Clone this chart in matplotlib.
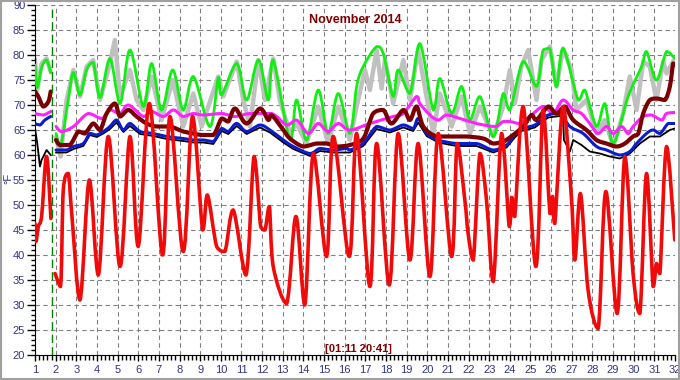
import numpy as np
import matplotlib
matplotlib.use("Agg")
import matplotlib.pyplot as plt
from matplotlib.ticker import MultipleLocator
from matplotlib.patches import Rectangle, PathPatch
from matplotlib.path import Path

nan = np.nan

# temperatures (°F) by day of month, nan marks the data gap at the restart line
red_day = [1.0, 1.05, 1.16, 1.32, 1.56, 1.77, 1.84,
           1.97, 2.24, 2.37, 2.61, 2.78, 3.18, 3.63, 4.07, 4.55, 5.12, 5.6, 6.0, 6.54, 7.18,
           7.54, 8.18, 8.63, 9.12, 9.35, 9.8, 10.2, 10.6, 11.22, 11.61, 11.93, 12.14, 12.35,
           12.54, 13.19, 13.64, 14.07, 14.48, 15.12, 15.45, 16.22, 16.58, 17.22, 17.55, 18.16,
           18.59, 19.16, 19.56, 20.13, 20.53, 21.18, 21.45, 21.82, 21.98, 22.23, 22.55, 22.87,
           23.2, 23.6, 23.97, 24.1, 24.24, 24.65, 25.26, 25.61, 25.94, 26.07, 26.18, 26.58,
           26.99, 27.15, 27.42, 27.79, 28.28, 28.65, 29.2, 29.57, 29.97, 30.3, 30.62, 30.94,
           31.1, 31.27, 31.59, 31.99]
red_temp = [46.3, 42.7, 45.7, 47.7, 59.7, 47.3, nan,
            36.3, 33.7, 53.0, 56.3, 48.3, 31.0, 55.0, 36.0, 63.7, 37.7, 63.7, 41.7, 70.3, 40.0,
            67.7, 40.7, 67.7, 45.0, 52.0, 41.7, 40.7, 49.0, 36.0, 59.7, 45.7, 45.0, 49.7,
            37.7, 30.3, 47.7, 30.0, 60.3, 39.7, 63.7, 39.7, 64.3, 33.7, 62.3, 34.0,
            64.3, 39.0, 62.3, 35.7, 64.3, 39.7, 62.3, 51.0, 44.3, 39.0, 60.3, 51.0,
            34.7, 64.3, 45.7, 51.5, 47.7, 69.7, 37.7, 69.0, 48.3, 51.7, 46.3, 69.7,
            51.0, 39.0, 52.3, 33.0, 25.3, 52.7, 28.3, 59.7, 36.3, 28.3, 56.3, 33.7,
            38.3, 36.3, 61.7, 43.0]

green_day = [1.0, 1.11, 1.32, 1.56, 1.76, 1.84,
             2.02, 2.24, 2.61, 2.86, 3.18, 3.5, 3.82, 4.15, 4.63, 5.12, 5.6, 6.25, 6.65, 7.13,
             7.67, 8.18, 8.67, 9.47, 9.88, 10.04, 10.77, 11.25, 11.82, 12.3, 12.54, 13.35,
             13.67, 14.15, 14.72, 15.2, 15.69, 16.25, 16.58, 16.9, 17.55, 17.87, 18.35, 18.59,
             19.16, 19.64, 20.29, 20.61, 21.18, 21.66, 22.07, 22.55, 23.2, 23.68, 24.0, 24.65,
             25.29, 25.61, 25.94, 26.26, 26.58, 27.31, 27.63, 28.2, 28.6, 29.01, 29.73, 30.38,
             30.62, 31.1, 31.59, 31.99]
green_temp = [78.0, 73.5, 77.5, 79.0, 76.5, nan,
              64.3, 61.7, 71.0, 76.5, 72.0, 77.0, 78.5, 71.5, 79.3, 70.3, 81.0, 69.7, 78.3, 69.0,
              77.0, 69.0, 75.7, 65.7, 75.5, 72.0, 78.3, 71.0, 79.0, 71.0, 79.0, 63.0,
              71.0, 63.0, 73.0, 64.3, 72.3, 64.3, 73.7, 77.7, 81.7, 80.3, 71.7, 77.0,
              72.3, 82.3, 69.0, 75.3, 68.3, 73.7, 67.0, 71.7, 63.7, 72.3, 69.0, 78.7,
              73.7, 81.0, 81.3, 73.7, 81.3, 71.0, 73.0, 65.7, 70.3, 62.3, 71.7, 77.7,
              80.7, 75.0, 80.7, 79.3]

gray_day = [1.0, 1.11, 1.32, 1.56, 1.76, 1.84,
            2.02, 2.24, 2.53, 2.86, 3.18, 3.5, 3.82, 4.15, 4.55, 4.87, 5.12, 5.6, 5.92, 6.25,
            6.65, 7.13, 7.67, 8.18, 8.67, 9.07, 9.88, 10.12, 10.77, 11.09, 11.41, 11.82, 12.14,
            12.54, 12.86, 13.35, 13.67, 14.15, 14.72, 15.2, 15.69, 16.25, 16.58, 16.98, 17.22,
            17.55, 17.79, 17.95, 18.35, 18.84, 19.16, 19.56, 20.05, 20.29, 20.61, 21.18, 21.66,
            22.07, 22.55, 23.2, 23.68, 24.0, 24.24, 24.56, 24.89, 25.29, 25.53, 25.94, 26.26,
            26.58, 26.99, 27.23, 27.71, 28.2, 28.6, 29.01, 29.49, 29.81, 30.14, 30.46, 30.78,
            31.1, 31.43, 31.59, 31.91]
gray_temp = [79.0, 73.0, 78.3, 79.3, 76.7, nan,
             63.5, 59.7, 71.0, 77.0, 71.7, 77.7, 79.0, 71.0, 77.0, 83.0, 71.7, 77.0, 71.0, 69.0,
             75.7, 67.0, 75.0, 65.7, 72.3, 65.7, 75.7, 71.7, 78.7, 71.0, 65.7, 79.0, 71.0,
             79.3, 71.0, 64.3, 66.3, 62.3, 69.7, 62.3, 69.7, 63.0, 69.7, 77.0, 73.0,
             81.0, 73.3, 79.0, 70.3, 79.0, 71.0, 81.0, 69.7, 64.3, 72.3, 65.7, 71.7,
             64.3, 69.7, 63.7, 69.7, 77.0, 70.3, 77.7, 81.0, 71.0, 79.0, 81.7, 73.7,
             81.3, 77.0, 69.0, 71.0, 64.3, 67.0, 61.7, 68.3, 75.7, 69.0, 78.7, 77.7,
             71.0, 78.7, 76.3, 78.7]

magenta_day = [1.0, 1.4, 1.76, 1.84,
               2.02, 2.29, 2.86, 3.58, 4.23, 4.63, 5.12, 5.52, 6.25, 6.65, 7.21, 7.7, 8.18, 8.67,
               9.15, 10.04, 10.69, 11.41, 12.46, 13.19, 13.67, 14.24, 14.72, 15.2, 15.69, 16.25,
               17.22, 18.35, 18.84, 19.48, 19.64, 20.13, 20.53, 20.94, 21.58, 22.39, 23.28, 23.68,
               24.0, 24.48, 24.97, 25.61, 26.1, 26.58, 27.07, 27.47, 27.87, 28.28, 28.68, 29.01,
               29.41, 29.73, 29.97, 30.46, 30.86, 31.35, 31.59, 31.99]
magenta_temp = [68.3, 68.0, 68.7, nan,
                65.7, 64.7, 65.7, 68.3, 67.3, 69.0, 68.3, 70.0, 67.7, 68.7, 67.7, 69.0, 67.7, 68.3,
                68.0, 68.3, 67.7, 68.3, 68.3, 66.0, 67.0, 64.3, 66.3, 64.7, 66.3, 65.0,
                66.3, 67.7, 68.3, 71.7, 70.3, 68.0, 67.0, 68.0, 67.3, 66.3, 65.7, 66.7,
                66.7, 66.3, 67.7, 69.7, 68.3, 71.0, 69.0, 68.3, 66.3, 64.3, 65.7, 64.3,
                65.7, 64.3, 65.7, 67.7, 68.0, 67.0, 68.3, 68.5]

maroon_day = [1.0, 1.16, 1.4, 1.65, 1.76, 1.84,
              2.02, 2.21, 2.69, 3.1, 3.42, 3.82, 4.15, 4.47, 4.87, 5.12, 5.52, 5.92, 6.41, 6.89,
              7.54, 8.18, 8.67, 9.07, 9.64, 10.04, 10.36, 10.69, 11.25, 11.9, 12.3, 12.46, 13.03,
              13.35, 13.99, 14.64, 15.12, 15.61, 16.25, 16.9, 17.38, 17.87, 18.27, 18.84, 19.16,
              19.48, 19.81, 20.45, 21.26, 21.9, 22.71, 23.2, 23.68, 24.0, 24.65, 25.05, 25.29,
              25.86, 26.26, 26.66, 27.07, 27.71, 28.2, 28.68, 29.17, 29.57, 29.97, 30.22, 30.46,
              30.78, 31.1, 31.51, 31.75, 31.91, 31.99]
maroon_temp = [72.7, 71.7, 69.7, 70.7, 72.7, nan,
               63.0, 62.0, 62.0, 64.7, 64.3, 66.3, 65.0, 68.3, 70.3, 67.7, 69.0, 67.7, 66.3, 65.7,
               65.7, 64.7, 64.3, 64.0, 64.0, 67.3, 66.7, 69.3, 66.3, 69.3, 67.0, 68.0, 65.0,
               63.3, 61.7, 62.3, 62.3, 61.7, 62.0, 63.3, 68.3, 69.0, 66.3, 69.0, 67.0,
               69.7, 65.7, 63.7, 63.7, 63.7, 63.3, 62.3, 62.7, 63.5, 65.7, 68.0, 67.0,
               69.7, 68.3, 69.7, 67.0, 65.0, 63.0, 62.3, 61.7, 62.3, 63.7, 64.3, 68.3,
               71.0, 71.3, 71.0, 73.7, 78.3, 78.0]

blue_day = [1.0, 1.24, 1.48, 1.76, 1.84,
            2.02, 2.53, 2.86, 3.34, 3.66, 3.99, 4.31, 4.63, 4.95, 5.28, 5.6, 6.09, 6.73, 7.38,
            8.18, 8.67, 9.15, 9.64, 10.04, 10.36, 10.77, 11.25, 11.9, 12.38, 13.03, 13.51, 14.32,
            14.8, 15.45, 16.09, 16.25, 16.9, 17.55, 18.19, 18.84, 19.32, 19.56, 19.97, 20.53,
            21.42, 22.39, 23.2, 23.84, 24.24, 24.56, 25.21, 25.86, 26.42, 26.91, 27.55, 28.2,
            28.68, 29.33, 29.81, 30.14, 30.62, 30.94, 31.27, 31.67, 31.99]
blue_temp = [66.3, 66.0, 67.0, 67.7, nan,
             61.0, 61.0, 61.7, 62.3, 64.3, 64.0, 64.7, 65.7, 67.0, 65.0, 66.3, 64.7, 64.3, 63.7,
             63.3, 63.0, 63.0, 62.7, 65.3, 64.7, 66.3, 64.7, 66.0, 65.0, 63.0, 61.7, 60.3,
             61.3, 61.0, 61.3, 61.0, 62.3, 65.7, 65.0, 66.0, 65.3, 67.3, 64.3, 63.0,
             62.3, 62.3, 61.0, 62.0, 64.0, 65.3, 66.0, 68.0, 68.3, 65.7, 64.3, 61.7,
             61.0, 60.0, 60.7, 62.3, 64.3, 65.0, 64.3, 66.3, 66.3]

black_day = [1.0, 1.11, 1.24, 1.32, 1.56, 1.76, 1.84,
             2.02, 2.53, 2.86, 3.34, 3.66, 3.99, 4.31, 4.63, 4.95, 5.28, 5.6, 6.09, 6.73, 7.38,
             8.18, 8.67, 9.15, 9.64, 10.04, 10.36, 10.77, 11.25, 11.9, 12.38, 13.03, 13.51, 14.32,
             14.8, 15.45, 16.25, 16.9, 17.55, 18.19, 18.84, 19.32, 19.56, 19.97, 20.53, 21.42,
             22.39, 23.2, 23.84, 24.24, 24.56, 25.21, 25.86, 26.42, 26.58, 26.62, 26.91, 27.07,
             27.47, 27.87, 28.36, 28.84, 29.33, 29.81, 30.3, 30.78, 31.27, 31.75, 31.99]
black_temp = [65.3, 62.3, 57.7, 59.0, 61.0, 60.0, nan,
              60.5, 60.5, 61.2, 61.8, 64.0, 63.6, 64.3, 65.2, 66.5, 64.6, 65.8, 64.2, 63.8, 63.2,
              62.8, 62.5, 62.5, 62.2, 64.8, 64.2, 65.8, 64.2, 65.5, 64.5, 62.5, 61.2, 59.8,
              60.8, 60.5, 60.5, 61.8, 65.2, 64.5, 65.5, 64.8, 66.5, 63.8, 62.5, 61.8,
              61.8, 60.5, 61.5, 63.5, 64.8, 65.5, 67.5, 67.8, 67.8, 63.0, 60.7, 63.0,
              62.0, 60.7, 60.3, 59.7, 59.3, 60.3, 62.3, 63.7, 63.7, 65.0, 65.3]

restart_day = 1.84

navy = '#333388'
plt.rcParams['font.family'] = ['Liberation Sans', 'DejaVu Sans']


def smooth_line(ax, xs, ys, **kw):
    # curved line through the points (bezier segments, no overshoot), split at nan gaps
    xs = np.asarray(xs, float)
    ys = np.asarray(ys, float)
    gaps = np.where(np.isnan(ys))[0]
    starts = [0] + list(gaps + 1)
    ends = list(gaps) + [len(ys)]
    for a, b in zip(starts, ends):
        p = np.column_stack([xs[a:b], ys[a:b]])
        n = len(p)
        if n < 2:
            continue
        verts = [p[0]]
        codes = [Path.MOVETO]
        for i in range(n - 1):
            p0 = p[i - 1] if i > 0 else p[i]
            p3 = p[i + 2] if i + 2 < n else p[i + 1]
            c1 = p[i] + (p[i + 1] - p0) / 6.0
            c2 = p[i + 1] - (p3 - p[i]) / 6.0
            lo, hi = sorted((p[i][1], p[i + 1][1]))
            c1[1] = min(max(c1[1], lo), hi)
            c2[1] = min(max(c2[1], lo), hi)
            verts += [c1, c2, p[i + 1]]
            codes += [Path.CURVE4] * 3
        ax.add_patch(PathPatch(Path(verts, codes), fill=False, capstyle='round',
                               joinstyle='round', **kw))


fig = plt.figure(figsize=(6.8, 3.8), dpi=100)
ax = fig.add_axes([35 / 680, 25 / 380, 640 / 680, 350 / 380])

ax.plot(gray_day, gray_temp, color='#c0c0c0', lw=3.2, zorder=2, solid_joinstyle='round')
smooth_line(ax, green_day, green_temp, edgecolor='#11ee11', lw=2.0, zorder=3)
smooth_line(ax, magenta_day, magenta_temp, edgecolor='#ff22ff', lw=2.2, zorder=4)
ax.plot(black_day, black_temp, color='black', lw=1.3, zorder=5)
smooth_line(ax, blue_day, blue_temp, edgecolor='#0a1ccc', lw=2.2, zorder=6)
smooth_line(ax, maroon_day, maroon_temp, edgecolor='#7a0000', lw=3.0, zorder=7)
smooth_line(ax, red_day, red_temp, edgecolor='#f00a0a', lw=2.6, zorder=8)

ax.axvline(restart_day, color='#008000', lw=1.0, linestyle=(0, (6, 3)), zorder=9)

ax.set_xlim(1, 32)
ax.set_ylim(20, 90)
ax.xaxis.set_major_locator(MultipleLocator(1))
ax.xaxis.set_minor_locator(MultipleLocator(0.2))
ax.yaxis.set_major_locator(MultipleLocator(5))
ax.yaxis.set_minor_locator(MultipleLocator(1))

ax.grid(True, which='major', color='#808080', lw=0.8, linestyle=(0, (4, 3)), zorder=0)
ax.set_axisbelow(True)

for s in ['top', 'right']:
    ax.spines[s].set_visible(False)

ax.tick_params(axis='y', which='major', length=6, width=1, pad=1, labelsize=8, labelcolor=navy)
ax.tick_params(axis='y', which='minor', length=3, width=1)
ax.tick_params(axis='x', which='major', length=4, width=1, pad=3, labelsize=8, labelcolor=navy)
ax.tick_params(axis='x', which='minor', length=3.5, width=1)

fig.text(8 / 680, 1 - 178 / 380, '°F', rotation=90, ha='center', va='center',
         color=navy, fontsize=8)

ax.text(0.5, 0.975, 'November 2014', transform=ax.transAxes, ha='center', va='top',
        color='#800000', fontsize=9, fontweight='bold')
ax.text(0.506, 0.018, '[01:11 20:41]', transform=ax.transAxes, ha='center', va='center',
        color='#800000', fontsize=8, fontweight='bold', zorder=10)

fig.patches.append(Rectangle((0.001, 0.002), 0.997, 0.995, transform=fig.transFigure,
                             fill=False, edgecolor='#a0a0a0', lw=1.5))

fig.savefig('out.png', dpi=100)
